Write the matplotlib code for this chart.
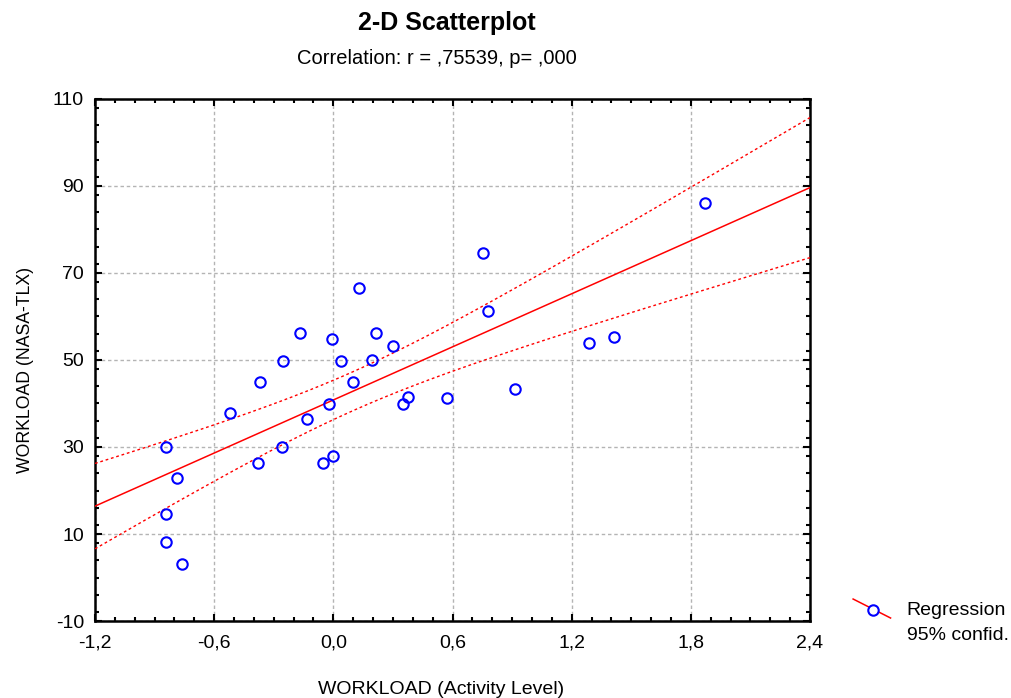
#!/usr/bin/env python3

import numpy as np
import matplotlib
matplotlib.use('Agg')

import matplotlib.pyplot as plt
from matplotlib.lines import Line2D
from matplotlib.ticker import MultipleLocator, FuncFormatter


activity = [0.130, -0.166, -0.005, 0.216, 0.300, -0.252, 0.040, 0.193,
            -0.371, 0.097, -0.520, -0.020, -0.134, 0.374, 0.352, 0.574,
            -0.843, -0.258, -0.378, -0.003, -0.053, -0.789, -0.843, -0.843,
            -0.763, 1.873, 0.754, 0.779, 1.289, 1.413, 0.916]

tlx = [66.6, 56.3, 54.8, 56.3, 53.3, 49.8, 49.8, 50.0,
       44.9, 44.9, 37.9, 39.8, 36.4, 41.6, 39.8, 41.3,
       29.9, 29.9, 26.4, 28.0, 26.4, 22.9, 14.6, 8.2,
       3.1, 86.0, 74.6, 61.3, 54.0, 55.4, 43.3]

x_ticks = [-1.2, -0.6, 0.0, 0.6, 1.2, 1.8, 2.4]
y_ticks = [-10, 10, 30, 50, 70, 90, 110]


def comma(v, pos):
    # decimal comma, like the original software
    return ('%.1f' % v).replace('.', ',') if abs(v) < 5 else '%d' % v


def fit(x, y, xs, t=2.045):
    x, y = np.asarray(x), np.asarray(y)
    n = len(x)
    b, a = np.polyfit(x, y, 1)
    s = np.sqrt(np.sum((y - (a + b * x)) ** 2) / (n - 2))
    sxx = np.sum((x - x.mean()) ** 2)
    se = s * np.sqrt(1 / n + (xs - x.mean()) ** 2 / sxx)
    yh = a + b * xs
    return yh, yh - t * se, yh + t * se


plt.rcParams['font.family'] = ['Liberation Sans', 'DejaVu Sans']

FS = 14

fig = plt.figure(figsize=(10.12, 6.98), dpi=100)
ax = fig.add_axes([0.0939, 0.1103, 0.7065, 0.7479])

xs = np.linspace(-1.2, 2.4, 200)
yh, lo, hi = fit(activity, tlx, xs)

ax.plot(xs, yh, color='red', lw=1.1, zorder=3)
ax.plot(xs, lo, color='red', lw=1.0, ls=(0, (2, 2)), zorder=3)
ax.plot(xs, hi, color='red', lw=1.0, ls=(0, (2, 2)), zorder=3)
ax.plot(activity, tlx, 'o', mfc='none', mec='blue', mew=1.5, ms=7.5,
        zorder=4)

ax.set_xlim(-1.2, 2.4)
ax.set_ylim(-10, 110)
ax.set_xticks(x_ticks)
ax.set_yticks(y_ticks)
ax.xaxis.set_minor_locator(MultipleLocator(0.1))
ax.yaxis.set_minor_locator(MultipleLocator(4))
ax.xaxis.set_major_formatter(FuncFormatter(comma))
ax.yaxis.set_major_formatter(FuncFormatter(comma))

ax.tick_params(which='both', direction='in', top=True, right=True,
               labelsize=FS, width=1.5, color='black')
ax.tick_params(which='major', length=5)
ax.tick_params(which='minor', length=3)
ax.tick_params(axis='x', which='major', pad=10)
ax.tick_params(axis='y', which='major', pad=8)

for sp in ax.spines.values():
    sp.set_linewidth(1.8)

ax.grid(True, which='major', color='#b4b4b4', ls=(0, (2.5, 2)), lw=1.0)
ax.set_axisbelow(True)

# titles and axis labels placed where the original has them
fig.text(0.442, 0.957, '2-D Scatterplot', ha='center', va='baseline',
         fontsize=18, fontweight='bold')
fig.text(0.432, 0.908, 'Correlation: r = ,75539, p= ,000', ha='center',
         va='baseline', fontsize=14.5)
fig.text(0.436, 0.006, 'WORKLOAD (Activity Level)', ha='center',
         va='baseline', fontsize=FS)
fig.text(0.025, 0.47, 'WORKLOAD (NASA-TLX)', ha='center', va='center',
         rotation=90, fontsize=12.7)

# legend drawn by hand, outside the axes
fig.add_artist(Line2D([0.843, 0.880], [0.1418, 0.1146], color='red', lw=1.1,
                      transform=fig.transFigure))
fig.add_artist(Line2D([0.8626], [0.126], marker='o', mfc='white', mec='blue',
                      mew=1.5, ms=7.5, transform=fig.transFigure))
fig.text(0.896, 0.126, 'Regression', va='center', fontsize=FS)
fig.text(0.896, 0.090, '95% confid.', va='center', fontsize=FS)

fig.savefig('out.png', dpi=100)
